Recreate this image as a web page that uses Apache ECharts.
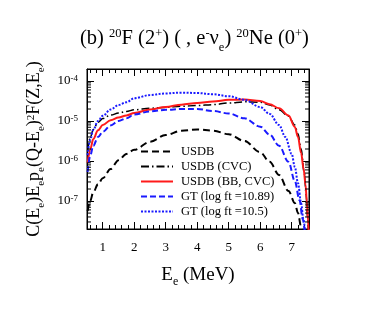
<!DOCTYPE html>
<html><head><meta charset="utf-8">
<script src="https://cdn.jsdelivr.net/npm/echarts@6/dist/echarts.min.js"></script>
<style>html,body{margin:0;padding:0;background:#fff}#c{width:371px;height:310px}</style>
</head><body><div id="c"></div>
<script>
// ---- data ----
var X_MIN = 0.5, X_MAX = 7.55;
var Y_MIN = 2e-8, Y_MAX = 2e-4;

var E_USDB = [0.52,0.6,0.7,0.85,1.0,1.25,1.5,1.75,2.0,2.5,3.0,3.5,4.0,4.5,5.0,5.5,6.0,6.3,6.6,6.9,7.1,7.2,7.3,7.33];
var V_USDB = [5.6e-8,1.0e-7,1.66e-7,2.63e-7,3.72e-7,6.31e-7,1.05e-6,1.51e-6,1.91e-6,3.02e-6,4.47e-6,5.75e-6,6.17e-6,5.75e-6,4.68e-6,3.16e-6,1.66e-6,9.55e-7,4.47e-7,1.78e-7,8.91e-8,5.01e-8,2.24e-8,1.58e-8];

var E_CVC = [0.52,0.6,0.7,0.85,1.0,1.25,1.5,1.75,2.0,2.5,3.0,3.5,4.0,4.5,5.0,5.5,6.0,6.3,6.6,6.9,7.1,7.2,7.3,7.4,7.46,7.5,7.53];
var V_CVC = [1.78e-6,3.80e-6,6.17e-6,9.33e-6,1.15e-5,1.41e-5,1.58e-5,1.74e-5,1.91e-5,2.09e-5,2.19e-5,2.34e-5,2.45e-5,2.57e-5,2.82e-5,3.02e-5,2.95e-5,2.51e-5,1.91e-5,1.32e-5,7.94e-6,4.79e-6,2.0e-6,5.01e-7,1.41e-7,3.98e-8,1.58e-8];

var E_BB = [0.52,0.6,0.7,0.85,1.0,1.25,1.5,1.75,2.0,2.5,3.0,3.5,4.0,4.5,5.0,5.5,6.0,6.3,6.6,6.9,7.1,7.2,7.3,7.38,7.44,7.48,7.52,7.54];
var V_BB = [8.91e-7,1.91e-6,3.55e-6,5.89e-6,7.94e-6,1.05e-5,1.23e-5,1.38e-5,1.58e-5,1.95e-5,2.24e-5,2.57e-5,2.82e-5,3.09e-5,3.39e-5,3.47e-5,3.16e-5,2.63e-5,2.09e-5,1.38e-5,7.08e-6,3.98e-6,1.58e-6,6.31e-7,2.51e-7,1.0e-7,3.16e-8,1.58e-8];

var E_GT1 = [0.52,0.6,0.7,0.85,1.0,1.25,1.5,1.75,2.0,2.5,3.0,3.5,4.0,4.5,5.0,5.5,6.0,6.3,6.6,6.9,7.1,7.25,7.35,7.42];
var V_GT1 = [5.37e-7,1.35e-6,2.40e-6,3.98e-6,5.37e-6,7.76e-6,1.0e-5,1.17e-5,1.45e-5,1.74e-5,1.91e-5,2.0e-5,2.0e-5,1.78e-5,1.55e-5,1.17e-5,7.24e-6,4.57e-6,2.40e-6,9.55e-7,3.16e-7,1.05e-7,3.55e-8,1.58e-8];

var E_GT2 = [0.52,0.6,0.7,0.85,1.0,1.25,1.5,1.75,2.0,2.5,3.0,3.5,4.0,4.5,5.0,5.5,6.0,6.3,6.6,6.8,7.0,7.1,7.2,7.3,7.37,7.43];
var V_GT2 = [1.41e-6,3.39e-6,6.03e-6,1.0e-5,1.35e-5,1.95e-5,2.51e-5,2.95e-5,3.72e-5,4.47e-5,4.90e-5,5.13e-5,5.01e-5,4.68e-5,4.17e-5,3.39e-5,2.24e-5,1.51e-5,7.94e-6,3.98e-6,1.51e-6,7.08e-7,2.82e-7,8.91e-8,3.55e-8,1.58e-8];

var NAMES = ['USDB','USDB (CVC)','USDB (BB, CVC)','GT (log ft =10.89)','GT (log ft =10.5)'];
var TITLE = '(b) {sup|20}F (2{sup|+}) ( , e{sup|-}\u03bd{sub|e}) {sup|20}Ne (0{sup|+})';
var Y_NAME = 'C(E{sub|e})E{sub|e}p{sub|e}(Q-E{sub|e}){sup|2}F(Z,E{sub|e})';
var X_NAME = 'E{sub|e} (MeV)';

// ---- chart ----
var FF = 'Liberation Serif';
function pairs(xs, ys){ return xs.map(function(x,i){ return [x, ys[i]]; }); }
var minorY = [];
for (var d = -8; d <= -4; d++) {
  for (var k = 2; k <= 9; k++) {
    var v = k * Math.pow(10, d);
    if (v > Y_MIN * 1.001 && v < Y_MAX * 0.999) minorY.push([X_MIN, v]);
  }
}
function richSet(supSize, subPad){
  return {
    sup: {fontFamily: FF, fontSize: supSize, color:'#000', verticalAlign:'top', lineHeight: supSize},
    sub: {fontFamily: FF, fontSize: supSize, color:'#000', verticalAlign:'bottom', lineHeight: supSize, padding:[0,0,subPad,0]}
  };
}
function xFmt(v){ return Math.abs(v - Math.round(v)) < 1e-6 ? String(Math.round(v)) : ''; }
function yFmt(v){ var e = Math.log(v)/Math.LN10; var r = Math.round(e); if (Math.abs(e - r) > 0.01) return ''; return '10{sup|' + r + '}'; }

var axisCommonX = {
  type:'value', min:X_MIN, max:X_MAX, splitNumber:7,
  axisLine:{show:true, onZero:false, lineStyle:{color:'#000', width:1}},
  axisTick:{show:true, inside:true, length:7, lineStyle:{color:'#000', width:1}},
  minorTick:{show:true, splitNumber:5, length:4, lineStyle:{color:'#000', width:1}},
  splitLine:{show:false}
};
var axisCommonY = {
  type:'log', logBase:10, min:Y_MIN, max:Y_MAX,
  axisLine:{show:true, lineStyle:{color:'#000', width:1}},
  axisTick:{show:true, inside:true, length:7, lineStyle:{color:'#000', width:1}},
  splitLine:{show:false}
};
function lineSeries(i, xs, ys, color, width, type){
  return {name:NAMES[i], type:'line', data:pairs(xs, ys), symbol:'none', smooth:0.35, smoothMonotone:'x',
    lineStyle:{color:color, width:width, type:type}, itemStyle:{color:color, opacity:0}};
}

var chart = echarts.init(document.getElementById('c'), null, {renderer:'canvas'});
chart.setOption({
  animation:false,
  backgroundColor:'#fff',
  title:{
    text: TITLE, left: 80, top: 27, padding:0,
    textStyle:{fontFamily:FF, fontSize:20.5, fontWeight:'normal', color:'#000', lineHeight:24, rich: richSet(12.5, -3)}
  },
  grid:{left:87, top:69, width:222, height:160, show:true, borderColor:'#000', borderWidth:1, containLabel:false},
  legend:{
    orient:'vertical', left:140, top:144, padding:0, itemWidth:32, itemHeight:15, itemGap:0,
    data: NAMES,
    itemStyle:{opacity:0},
    textStyle:{fontFamily:FF, fontSize:12.5, lineHeight:15, color:'#000', padding:[0,0,0,3]}
  },
  xAxis:[
    Object.assign({}, axisCommonX, {position:'bottom',
      axisLabel:{formatter:xFmt, fontFamily:FF, fontSize:13, color:'#000', margin:12},
      name: X_NAME, nameLocation:'middle', nameGap:37,
      nameTextStyle:{fontFamily:FF, fontSize:19, color:'#000', rich: richSet(12, -3)}}),
    Object.assign({}, axisCommonX, {position:'top', axisLabel:{show:false}})
  ],
  yAxis:[
    Object.assign({}, axisCommonY, {position:'left',
      axisLabel:{formatter:yFmt, fontFamily:FF, fontSize:13, color:'#000', margin:9, rich:{sup:{fontFamily:FF, fontSize:9, color:'#000', verticalAlign:'top', lineHeight:9}}},
      name: Y_NAME, nameLocation:'middle', nameGap:35, nameRotate:90,
      nameTextStyle:{fontFamily:FF, fontSize:18, color:'#000', rich: richSet(11, -3)}}),
    Object.assign({}, axisCommonY, {position:'right', axisLabel:{show:false}})
  ],
  series:[
    lineSeries(0, E_USDB, V_USDB, '#000', 2, [7,4]),
    lineSeries(1, E_CVC, V_CVC, '#000', 1.5, [8,3,1.5,3]),
    lineSeries(2, E_BB, V_BB, '#ff1a1a', 2, 'solid'),
    lineSeries(3, E_GT1, V_GT1, '#1a1aff', 2, [6,3]),
    lineSeries(4, E_GT2, V_GT2, '#1a1aff', 2, [2,1.5]),
    {type:'custom', silent:true, z:5, clip:false, data:minorY,
     renderItem:function(params, api){
       var v = api.value(1);
       var pL = api.coord([X_MIN, v]);
       var pR = api.coord([X_MAX, v]);
       return {type:'group', children:[
         {type:'line', shape:{x1:pL[0], y1:pL[1], x2:pL[0]+4, y2:pL[1]}, style:{stroke:'#000', lineWidth:1}},
         {type:'line', shape:{x1:pR[0]-4, y1:pR[1], x2:pR[0], y2:pR[1]}, style:{stroke:'#000', lineWidth:1}}
       ]};
     }}
  ]
});
</script>
</body></html>
